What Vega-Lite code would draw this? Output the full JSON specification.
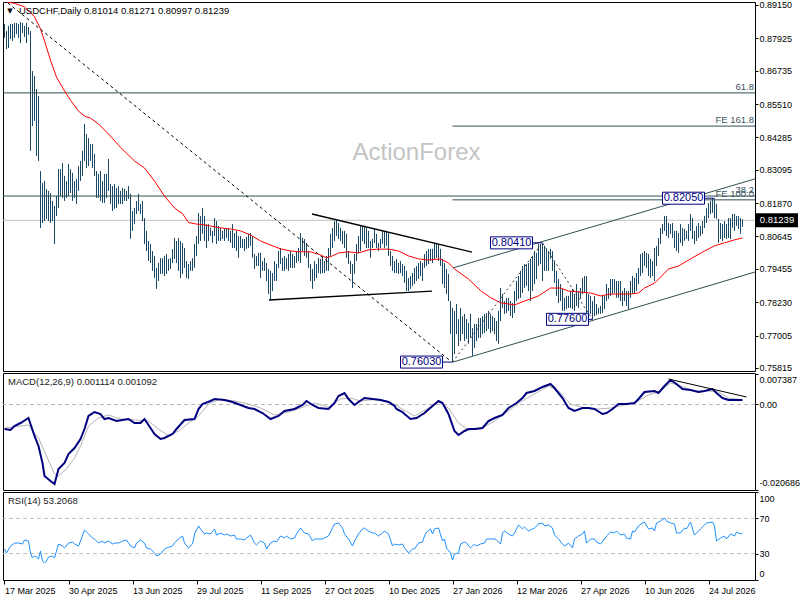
{
  "$schema": "https://vega.github.io/schema/vega-lite/v6.json",
  "background": "white",
  "padding": {"left": 0, "top": 0, "right": 0, "bottom": 0},
  "spacing": 2,
  "bounds": "flush",
  "config": {
    "view": {"stroke": "#000000", "strokeWidth": 1},
    "axis": {"labelFont": "Liberation Sans", "labelFontSize": 9, "labelColor": "#000000", "tickColor": "#000000", "tickSize": 3, "labelPadding": 1, "domain": false, "grid": false, "labelOverlap": false, "labelSeparation": 0},
    "text": {"font": "Liberation Sans"}
  },
  "datasets": {
    "bars": [
      {"i":0,"h":0.8845,"l":0.8794},{"i":1,"h":0.8819,"l":0.8753},{"i":2,"h":0.8838,"l":0.8757},{"i":3,"h":0.8845,"l":0.8790},{"i":4,"h":0.8845,"l":0.8783},
      {"i":5,"h":0.8849,"l":0.8794},{"i":6,"h":0.8849,"l":0.8808},{"i":7,"h":0.8845,"l":0.8794},{"i":8,"h":0.8852,"l":0.8775},{"i":9,"h":0.8849,"l":0.8812},
      {"i":10,"h":0.8838,"l":0.8797},{"i":11,"h":0.8849,"l":0.8775},{"i":12,"h":0.8834,"l":0.8805},{"i":13,"h":0.8819,"l":0.8379},{"i":14,"h":0.8672,"l":0.8470},
      {"i":15,"h":0.8654,"l":0.8489},{"i":16,"h":0.8606,"l":0.8360},{"i":17,"h":0.8581,"l":0.8342},{"i":18,"h":0.8305,"l":0.8096},{"i":19,"h":0.8261,"l":0.8114},
      {"i":20,"h":0.8268,"l":0.8121},{"i":21,"h":0.8239,"l":0.8129},{"i":22,"h":0.8232,"l":0.8121},{"i":23,"h":0.8224,"l":0.8114},{"i":24,"h":0.8195,"l":0.8121},
      {"i":25,"h":0.8177,"l":0.8037},{"i":26,"h":0.8213,"l":0.8140},{"i":27,"h":0.8312,"l":0.8169},{"i":28,"h":0.8312,"l":0.8213},{"i":29,"h":0.8334,"l":0.8206},
      {"i":30,"h":0.8287,"l":0.8195},{"i":31,"h":0.8268,"l":0.8206},{"i":32,"h":0.8331,"l":0.8213},{"i":33,"h":0.8312,"l":0.8224},{"i":34,"h":0.8298,"l":0.8195},
      {"i":35,"h":0.8268,"l":0.8206},{"i":36,"h":0.8276,"l":0.8184},{"i":37,"h":0.8323,"l":0.8232},{"i":38,"h":0.8342,"l":0.8268},{"i":39,"h":0.8379,"l":0.8287},
      {"i":40,"h":0.8478,"l":0.8342},{"i":41,"h":0.8441,"l":0.8316},{"i":42,"h":0.8426,"l":0.8323},{"i":43,"h":0.8404,"l":0.8342},{"i":44,"h":0.8404,"l":0.8316},
      {"i":45,"h":0.8368,"l":0.8287},{"i":46,"h":0.8305,"l":0.8206},{"i":47,"h":0.8294,"l":0.8206},{"i":48,"h":0.8305,"l":0.8195},{"i":49,"h":0.8268,"l":0.8188},
      {"i":50,"h":0.8294,"l":0.8188},{"i":51,"h":0.8294,"l":0.8206},{"i":52,"h":0.8349,"l":0.8232},{"i":53,"h":0.8257,"l":0.8184},{"i":54,"h":0.8250,"l":0.8158},
      {"i":55,"h":0.8257,"l":0.8166},{"i":56,"h":0.8243,"l":0.8169},{"i":57,"h":0.8250,"l":0.8184},{"i":58,"h":0.8232,"l":0.8184},{"i":59,"h":0.8243,"l":0.8184},
      {"i":60,"h":0.8239,"l":0.8195},{"i":61,"h":0.8232,"l":0.8195},{"i":62,"h":0.8250,"l":0.8202},{"i":63,"h":0.8221,"l":0.8056},{"i":64,"h":0.8158,"l":0.8085},
      {"i":65,"h":0.8169,"l":0.8110},{"i":66,"h":0.8195,"l":0.8147},{"i":67,"h":0.8221,"l":0.8158},{"i":68,"h":0.8184,"l":0.8147},{"i":69,"h":0.8195,"l":0.8121},
      {"i":70,"h":0.8132,"l":0.8037},{"i":71,"h":0.8085,"l":0.8011},{"i":72,"h":0.8048,"l":0.7974},{"i":73,"h":0.8037,"l":0.7967},{"i":74,"h":0.8011,"l":0.7938},
      {"i":75,"h":0.7993,"l":0.7912},{"i":76,"h":0.7949,"l":0.7872},{"i":77,"h":0.7967,"l":0.7901},{"i":78,"h":0.7985,"l":0.7927},{"i":79,"h":0.7985,"l":0.7927},
      {"i":80,"h":0.7993,"l":0.7919},{"i":81,"h":0.8000,"l":0.7927},{"i":82,"h":0.7982,"l":0.7938},{"i":83,"h":0.7985,"l":0.7945},{"i":84,"h":0.8018,"l":0.7967},
      {"i":85,"h":0.8059,"l":0.7982},{"i":86,"h":0.8048,"l":0.7967},{"i":87,"h":0.8059,"l":0.7938},{"i":88,"h":0.8048,"l":0.7912},{"i":89,"h":0.8040,"l":0.7927},
      {"i":90,"h":0.8022,"l":0.7949},{"i":91,"h":0.7974,"l":0.7912},{"i":92,"h":0.7963,"l":0.7908},{"i":93,"h":0.7974,"l":0.7938},{"i":94,"h":0.7985,"l":0.7938},
      {"i":95,"h":0.8037,"l":0.7949},{"i":96,"h":0.8066,"l":0.7993},{"i":97,"h":0.8151,"l":0.8037},{"i":98,"h":0.8140,"l":0.8048},{"i":99,"h":0.8169,"l":0.8074},
      {"i":100,"h":0.8140,"l":0.8048},{"i":101,"h":0.8110,"l":0.8022},{"i":102,"h":0.8110,"l":0.8048},{"i":103,"h":0.8096,"l":0.8066},{"i":104,"h":0.8085,"l":0.8041},
      {"i":105,"h":0.8132,"l":0.8066},{"i":106,"h":0.8121,"l":0.8037},{"i":107,"h":0.8103,"l":0.8048},{"i":108,"h":0.8096,"l":0.8048},{"i":109,"h":0.8085,"l":0.8055},
      {"i":110,"h":0.8092,"l":0.8048},{"i":111,"h":0.8096,"l":0.8059},{"i":112,"h":0.8096,"l":0.8048},{"i":113,"h":0.8085,"l":0.8041},{"i":114,"h":0.8110,"l":0.8022},
      {"i":115,"h":0.8077,"l":0.8022},{"i":116,"h":0.8085,"l":0.8011},{"i":117,"h":0.8066,"l":0.7986},{"i":118,"h":0.8066,"l":0.8022},{"i":119,"h":0.8055,"l":0.8022},
      {"i":120,"h":0.8055,"l":0.8011},{"i":121,"h":0.8063,"l":0.8019},{"i":122,"h":0.8074,"l":0.8022},{"i":123,"h":0.8077,"l":0.8030},{"i":124,"h":0.8066,"l":0.7986},
      {"i":125,"h":0.8000,"l":0.7945},{"i":126,"h":0.7993,"l":0.7956},{"i":127,"h":0.8004,"l":0.7956},{"i":128,"h":0.8004,"l":0.7912},{"i":129,"h":0.7974,"l":0.7938},
      {"i":130,"h":0.7986,"l":0.7938},{"i":131,"h":0.7967,"l":0.7901},{"i":132,"h":0.7945,"l":0.7853},{"i":133,"h":0.7938,"l":0.7829},{"i":134,"h":0.7930,"l":0.7864},
      {"i":135,"h":0.7974,"l":0.7901},{"i":136,"h":0.7963,"l":0.7901},{"i":137,"h":0.8011,"l":0.7949},{"i":138,"h":0.8022,"l":0.7963},{"i":139,"h":0.7986,"l":0.7938},
      {"i":140,"h":0.7993,"l":0.7938},{"i":141,"h":0.7986,"l":0.7945},{"i":142,"h":0.8000,"l":0.7938},{"i":143,"h":0.8011,"l":0.7949},{"i":144,"h":0.8000,"l":0.7949},
      {"i":145,"h":0.7993,"l":0.7949},{"i":146,"h":0.8011,"l":0.7967},{"i":147,"h":0.8022,"l":0.7974},{"i":148,"h":0.8077,"l":0.7967},{"i":149,"h":0.8059,"l":0.8011},
      {"i":150,"h":0.8055,"l":0.7993},{"i":151,"h":0.8041,"l":0.7986},{"i":152,"h":0.8011,"l":0.7949},{"i":153,"h":0.7963,"l":0.7901},{"i":154,"h":0.7945,"l":0.7872},
      {"i":155,"h":0.7974,"l":0.7901},{"i":156,"h":0.7963,"l":0.7912},{"i":157,"h":0.7986,"l":0.7930},{"i":158,"h":0.7982,"l":0.7927},{"i":159,"h":0.7993,"l":0.7930},
      {"i":160,"h":0.7974,"l":0.7930},{"i":161,"h":0.7993,"l":0.7938},{"i":162,"h":0.8022,"l":0.7938},{"i":163,"h":0.8074,"l":0.7993},{"i":164,"h":0.8096,"l":0.8022},
      {"i":165,"h":0.8121,"l":0.8048},{"i":166,"h":0.8125,"l":0.8066},{"i":167,"h":0.8114,"l":0.8055},{"i":168,"h":0.8096,"l":0.8048},{"i":169,"h":0.8085,"l":0.8037},
      {"i":170,"h":0.8085,"l":0.8022},{"i":171,"h":0.8074,"l":0.7986},{"i":172,"h":0.8011,"l":0.7963},{"i":173,"h":0.7974,"l":0.7927},{"i":174,"h":0.7963,"l":0.7875},
      {"i":175,"h":0.8000,"l":0.7927},{"i":176,"h":0.8037,"l":0.7974},{"i":177,"h":0.8066,"l":0.8004},{"i":178,"h":0.8103,"l":0.8011},{"i":179,"h":0.8103,"l":0.8048},
      {"i":180,"h":0.8103,"l":0.8037},{"i":181,"h":0.8096,"l":0.8022},{"i":182,"h":0.8085,"l":0.8022},{"i":183,"h":0.8048,"l":0.7986},{"i":184,"h":0.8055,"l":0.8022},
      {"i":185,"h":0.8092,"l":0.8041},{"i":186,"h":0.8074,"l":0.8022},{"i":187,"h":0.8041,"l":0.8011},{"i":188,"h":0.8055,"l":0.8022},{"i":189,"h":0.8085,"l":0.8037},
      {"i":190,"h":0.8085,"l":0.8022},{"i":191,"h":0.8085,"l":0.8030},{"i":192,"h":0.8077,"l":0.7993},{"i":193,"h":0.8011,"l":0.7956},{"i":194,"h":0.7993,"l":0.7938},
      {"i":195,"h":0.7974,"l":0.7930},{"i":196,"h":0.7982,"l":0.7930},{"i":197,"h":0.7967,"l":0.7927},{"i":198,"h":0.7974,"l":0.7930},{"i":199,"h":0.7963,"l":0.7919},
      {"i":200,"h":0.7956,"l":0.7894},{"i":201,"h":0.7938,"l":0.7864},{"i":202,"h":0.7912,"l":0.7864},{"i":203,"h":0.7919,"l":0.7872},{"i":204,"h":0.7930,"l":0.7883},
      {"i":205,"h":0.7949,"l":0.7890},{"i":206,"h":0.7956,"l":0.7901},{"i":207,"h":0.7967,"l":0.7908},{"i":208,"h":0.7974,"l":0.7919},{"i":209,"h":0.7967,"l":0.7901},
      {"i":210,"h":0.8000,"l":0.7949},{"i":211,"h":0.8011,"l":0.7956},{"i":212,"h":0.8019,"l":0.7963},{"i":213,"h":0.8019,"l":0.7974},{"i":214,"h":0.8019,"l":0.7967},
      {"i":215,"h":0.8041,"l":0.7982},{"i":216,"h":0.8041,"l":0.7986},{"i":217,"h":0.8037,"l":0.7974},{"i":218,"h":0.8019,"l":0.7956},{"i":219,"h":0.7982,"l":0.7890},
      {"i":220,"h":0.7967,"l":0.7875},{"i":221,"h":0.7945,"l":0.7853},{"i":222,"h":0.7927,"l":0.7827},{"i":223,"h":0.7827,"l":0.7706},{"i":224,"h":0.7802,"l":0.7603},
      {"i":225,"h":0.7791,"l":0.7633},{"i":226,"h":0.7816,"l":0.7706},{"i":227,"h":0.7761,"l":0.7662},{"i":228,"h":0.7802,"l":0.7680},{"i":229,"h":0.7772,"l":0.7706},
      {"i":230,"h":0.7780,"l":0.7680},{"i":231,"h":0.7761,"l":0.7688},{"i":232,"h":0.7747,"l":0.7670},{"i":233,"h":0.7780,"l":0.7692},{"i":234,"h":0.7728,"l":0.7626},
      {"i":235,"h":0.7743,"l":0.7655},{"i":236,"h":0.7743,"l":0.7680},{"i":237,"h":0.7765,"l":0.7692},{"i":238,"h":0.7765,"l":0.7692},{"i":239,"h":0.7772,"l":0.7706},
      {"i":240,"h":0.7780,"l":0.7710},{"i":241,"h":0.7783,"l":0.7717},{"i":242,"h":0.7791,"l":0.7725},{"i":243,"h":0.7780,"l":0.7710},{"i":244,"h":0.7772,"l":0.7717},
      {"i":245,"h":0.7765,"l":0.7706},{"i":246,"h":0.7754,"l":0.7680},{"i":247,"h":0.7791,"l":0.7670},{"i":248,"h":0.7875,"l":0.7754},{"i":249,"h":0.7853,"l":0.7802},
      {"i":250,"h":0.7827,"l":0.7780},{"i":251,"h":0.7839,"l":0.7783},{"i":252,"h":0.7839,"l":0.7791},{"i":253,"h":0.7827,"l":0.7772},{"i":254,"h":0.7820,"l":0.7765},
      {"i":255,"h":0.7864,"l":0.7783},{"i":256,"h":0.7901,"l":0.7827},{"i":257,"h":0.7919,"l":0.7835},{"i":258,"h":0.7938,"l":0.7839},{"i":259,"h":0.7956,"l":0.7857},
      {"i":260,"h":0.7963,"l":0.7875},{"i":261,"h":0.7963,"l":0.7883},{"i":262,"h":0.7967,"l":0.7864},{"i":263,"h":0.7982,"l":0.7827},{"i":264,"h":0.7993,"l":0.7864},
      {"i":265,"h":0.8011,"l":0.7890},{"i":266,"h":0.8004,"l":0.7908},{"i":267,"h":0.8037,"l":0.7956},{"i":268,"h":0.8037,"l":0.7963},{"i":269,"h":0.8041,"l":0.7901},
      {"i":270,"h":0.8030,"l":0.7938},{"i":271,"h":0.8019,"l":0.7938},{"i":272,"h":0.8011,"l":0.7938},{"i":273,"h":0.8019,"l":0.7982},{"i":274,"h":0.8011,"l":0.7938},
      {"i":275,"h":0.7974,"l":0.7894},{"i":276,"h":0.7938,"l":0.7846},{"i":277,"h":0.7908,"l":0.7820},{"i":278,"h":0.7890,"l":0.7827},{"i":279,"h":0.7872,"l":0.7791},
      {"i":280,"h":0.7839,"l":0.7791},{"i":281,"h":0.7846,"l":0.7798},{"i":282,"h":0.7846,"l":0.7802},{"i":283,"h":0.7864,"l":0.7802},{"i":284,"h":0.7872,"l":0.7798},
      {"i":285,"h":0.7853,"l":0.7791},{"i":286,"h":0.7890,"l":0.7809},{"i":287,"h":0.7864,"l":0.7802},{"i":288,"h":0.7875,"l":0.7835},{"i":289,"h":0.7912,"l":0.7853},
      {"i":290,"h":0.7919,"l":0.7857},{"i":291,"h":0.7919,"l":0.7772},{"i":292,"h":0.7853,"l":0.7769},{"i":293,"h":0.7846,"l":0.7780},{"i":294,"h":0.7827,"l":0.7760},
      {"i":295,"h":0.7846,"l":0.7772},{"i":296,"h":0.7816,"l":0.7776},{"i":297,"h":0.7802,"l":0.7780},{"i":298,"h":0.7809,"l":0.7780},{"i":299,"h":0.7846,"l":0.7783},
      {"i":300,"h":0.7846,"l":0.7798},{"i":301,"h":0.7890,"l":0.7827},{"i":302,"h":0.7875,"l":0.7835},{"i":303,"h":0.7908,"l":0.7846},{"i":304,"h":0.7908,"l":0.7853},
      {"i":305,"h":0.7908,"l":0.7857},{"i":306,"h":0.7901,"l":0.7839},{"i":307,"h":0.7901,"l":0.7839},{"i":308,"h":0.7901,"l":0.7827},{"i":309,"h":0.7864,"l":0.7809},
      {"i":310,"h":0.7875,"l":0.7827},{"i":311,"h":0.7864,"l":0.7809},{"i":312,"h":0.7864,"l":0.7798},{"i":313,"h":0.7901,"l":0.7839},{"i":314,"h":0.7919,"l":0.7853},
      {"i":315,"h":0.7912,"l":0.7853},{"i":316,"h":0.7930,"l":0.7864},{"i":317,"h":0.7949,"l":0.7890},{"i":318,"h":0.8000,"l":0.7919},{"i":319,"h":0.8004,"l":0.7930},
      {"i":320,"h":0.8011,"l":0.7956},{"i":321,"h":0.8004,"l":0.7949},{"i":322,"h":0.8000,"l":0.7919},{"i":323,"h":0.7982,"l":0.7912},{"i":324,"h":0.7974,"l":0.7919},
      {"i":325,"h":0.8022,"l":0.7901},{"i":326,"h":0.8030,"l":0.7956},{"i":327,"h":0.8059,"l":0.7993},{"i":328,"h":0.8096,"l":0.8037},{"i":329,"h":0.8110,"l":0.8074},
      {"i":330,"h":0.8140,"l":0.8085},{"i":331,"h":0.8140,"l":0.8066},{"i":332,"h":0.8114,"l":0.8059},{"i":333,"h":0.8110,"l":0.8074},{"i":334,"h":0.8114,"l":0.8059},
      {"i":335,"h":0.8085,"l":0.8022},{"i":336,"h":0.8085,"l":0.8011},{"i":337,"h":0.8077,"l":0.8004},{"i":338,"h":0.8110,"l":0.8041},{"i":339,"h":0.8096,"l":0.8030},
      {"i":340,"h":0.8092,"l":0.8048},{"i":341,"h":0.8085,"l":0.8055},{"i":342,"h":0.8110,"l":0.8048},{"i":343,"h":0.8147,"l":0.8085},{"i":344,"h":0.8132,"l":0.8055},
      {"i":345,"h":0.8085,"l":0.8037},{"i":346,"h":0.8103,"l":0.8048},{"i":347,"h":0.8114,"l":0.8059},{"i":348,"h":0.8103,"l":0.8066},{"i":349,"h":0.8121,"l":0.8074},
      {"i":350,"h":0.8140,"l":0.8096},{"i":351,"h":0.8169,"l":0.8114},{"i":352,"h":0.8187,"l":0.8132},{"i":353,"h":0.8195,"l":0.8147},{"i":354,"h":0.8205,"l":0.8151},
      {"i":355,"h":0.8204,"l":0.8132},{"i":356,"h":0.8184,"l":0.8129},{"i":357,"h":0.8129,"l":0.8041},{"i":358,"h":0.8114,"l":0.8055},{"i":359,"h":0.8110,"l":0.8048},
      {"i":360,"h":0.8121,"l":0.8059},{"i":361,"h":0.8110,"l":0.8055},{"i":362,"h":0.8132,"l":0.8059},{"i":363,"h":0.8132,"l":0.8055},{"i":364,"h":0.8147,"l":0.8096},
      {"i":365,"h":0.8147,"l":0.8085},{"i":366,"h":0.8140,"l":0.8103},{"i":367,"h":0.8140,"l":0.8092},{"i":368,"h":0.8132,"l":0.8074},{"i":369,"h":0.8127,"l":0.8100}
    ],
    "ma": [
      {"i":1,"v":0.8926},{"i":5,"v":0.8921},{"i":10,"v":0.8908},{"i":15,"v":0.8872},{"i":18,"v":0.8827},{"i":20,"v":0.8783},{"i":23,"v":0.8712},{"i":26,"v":0.8650},
      {"i":30,"v":0.8599},{"i":33,"v":0.8565},{"i":37,"v":0.8525},{"i":40,"v":0.8507},{"i":43,"v":0.8499},{"i":47,"v":0.8478},{"i":52,"v":0.8441},{"i":58,"v":0.8392},
      {"i":65,"v":0.8342},{"i":70,"v":0.8316},{"i":75,"v":0.8268},{"i":80,"v":0.8213},{"i":85,"v":0.8169},{"i":89,"v":0.8148},{"i":92,"v":0.8116},{"i":96,"v":0.8110},
      {"i":99,"v":0.8108},{"i":103,"v":0.8103},{"i":108,"v":0.8096},{"i":113,"v":0.8092},{"i":118,"v":0.8085},{"i":123,"v":0.8070},{"i":128,"v":0.8048},{"i":133,"v":0.8033},
      {"i":138,"v":0.8019},{"i":143,"v":0.8011},{"i":148,"v":0.8008},{"i":153,"v":0.8008},{"i":158,"v":0.7997},{"i":161,"v":0.7986},{"i":164,"v":0.7993},{"i":167,"v":0.8004},
      {"i":172,"v":0.8008},{"i":177,"v":0.8004},{"i":182,"v":0.8015},{"i":187,"v":0.8018},{"i":192,"v":0.8018},{"i":197,"v":0.8011},{"i":202,"v":0.7993},{"i":207,"v":0.7982},
      {"i":212,"v":0.7978},{"i":218,"v":0.7982},{"i":222,"v":0.7967},{"i":225,"v":0.7945},{"i":232,"v":0.7908},{"i":238,"v":0.7866},{"i":243,"v":0.7840},{"i":248,"v":0.7821},
      {"i":255,"v":0.7813},{"i":260,"v":0.7827},{"i":267,"v":0.7846},{"i":273,"v":0.7875},{"i":278,"v":0.7875},{"i":282,"v":0.7864},{"i":288,"v":0.7860},{"i":293,"v":0.7857},
      {"i":298,"v":0.7846},{"i":303,"v":0.7853},{"i":308,"v":0.7853},{"i":313,"v":0.7853},{"i":317,"v":0.7857},{"i":320,"v":0.7875},{"i":325,"v":0.7893},{"i":332,"v":0.7945},
      {"i":337,"v":0.7956},{"i":343,"v":0.7982},{"i":350,"v":0.8011},{"i":355,"v":0.8030},{"i":360,"v":0.8041},{"i":365,"v":0.8052},{"i":369,"v":0.8059}
    ],
    "trend": [
      {"name":"down","i":1.75,"p":0.8922},{"name":"down","i":223,"p":0.7607},
      {"name":"triU","i":153.75,"p":0.8147},{"name":"triU","i":233.75,"p":0.8007},
      {"name":"triL","i":132.25,"p":0.7831},{"name":"triL","i":213.75,"p":0.7864},
      {"name":"chU","i":224.25,"p":0.7949},{"name":"chU","i":375.25,"p":0.8276},
      {"name":"chL","i":224.25,"p":0.7603},{"name":"chL","i":375.25,"p":0.7934},
      {"name":"abc","i":224,"p":0.7603},{"name":"abc","i":269,"p":0.8041},{"name":"abc","i":294,"p":0.7760}
    ],
    "levels": [
      {"name":"61.8","p":0.8592,"i1":-0.75,"i2":375.25},
      {"name":"FE 161.8","p":0.8470,"i1":224,"i2":375.25},
      {"name":"38.2","p":0.8213,"i1":-0.75,"i2":375.25},
      {"name":"FE 100.0","p":0.8199,"i1":224,"i2":375.25}
    ],
    "tags": [
      {"t":"0.76030","p":0.7603,"ic":208.5,"i1":219,"i2":224},
      {"t":"0.80410","p":0.8041,"ic":253.5,"i1":264,"i2":269},
      {"t":"0.77600","p":0.7760,"ic":281.5,"i1":292,"i2":294},
      {"t":"0.82050","p":0.8205,"ic":339.5,"i1":350,"i2":355}
    ],
    "macd": [
      {"i":0,"v":-0.00593},{"i":3,"v":-0.00617},{"i":5,"v":-0.0052},{"i":8,"v":-0.00448},{"i":12,"v":-0.00327},{"i":13,"v":-0.00472},{"i":15,"v":-0.00762},{"i":17,"v":-0.01004},
      {"i":19,"v":-0.01416},{"i":20,"v":-0.0173},{"i":23,"v":-0.01851},{"i":25,"v":-0.01924},{"i":27,"v":-0.01561},{"i":30,"v":-0.01416},{"i":32,"v":-0.01198},{"i":35,"v":-0.01053},
      {"i":38,"v":-0.00835},{"i":40,"v":-0.00593},{"i":42,"v":-0.00278},{"i":45,"v":-0.00182},{"i":48,"v":-0.0023},{"i":50,"v":-0.00351},{"i":52,"v":-0.00327},{"i":56,"v":-0.00399},
      {"i":59,"v":-0.00375},{"i":62,"v":-0.00351},{"i":65,"v":-0.00448},{"i":68,"v":-0.00448},{"i":70,"v":-0.00351},{"i":73,"v":-0.00569},{"i":75,"v":-0.00714},{"i":78,"v":-0.00835},
      {"i":80,"v":-0.00811},{"i":84,"v":-0.00714},{"i":86,"v":-0.00593},{"i":90,"v":-0.00375},{"i":95,"v":-0.00351},{"i":97,"v":-0.00109},{"i":99,"v":0.00012},{"i":103,"v":0.00085},
      {"i":105,"v":0.00133},{"i":110,"v":0.00109},{"i":114,"v":0.00061},{"i":118,"v":-0.00012},{"i":122,"v":-0.00085},{"i":125,"v":-0.00109},{"i":129,"v":-0.00206},{"i":131,"v":-0.00278},
      {"i":133,"v":-0.00351},{"i":137,"v":-0.00278},{"i":140,"v":-0.00157},{"i":145,"v":-0.00109},{"i":149,"v":-0.00012},{"i":151,"v":0.00085},{"i":154,"v":-0.00012},{"i":157,"v":-0.00085},
      {"i":162,"v":-0.00109},{"i":165,"v":0.00036},{"i":167,"v":0.00206},{"i":170,"v":0.00278},{"i":172,"v":0.00133},{"i":175,"v":-0.00012},{"i":177,"v":0.00061},{"i":180,"v":0.00157},
      {"i":184,"v":0.00133},{"i":188,"v":0.00109},{"i":192,"v":0.00061},{"i":195,"v":-0.00036},{"i":196,"v":-0.00109},{"i":199,"v":-0.00182},{"i":200,"v":-0.0023},{"i":203,"v":-0.00351},
      {"i":206,"v":-0.00327},{"i":210,"v":-0.00206},{"i":214,"v":-0.00036},{"i":217,"v":0.00085},{"i":219,"v":0.00036},{"i":222,"v":-0.0023},{"i":225,"v":-0.00641},{"i":227,"v":-0.00738},
      {"i":230,"v":-0.00641},{"i":232,"v":-0.00593},{"i":235,"v":-0.00593},{"i":239,"v":-0.00569},{"i":242,"v":-0.00399},{"i":245,"v":-0.00327},{"i":249,"v":-0.00254},{"i":252,"v":-0.00085},
      {"i":256,"v":0.00036},{"i":259,"v":0.00157},{"i":261,"v":0.00278},{"i":265,"v":0.00327},{"i":269,"v":0.00424},{"i":273,"v":0.00496},{"i":275,"v":0.00399},{"i":279,"v":0.00157},
      {"i":282,"v":-0.00085},{"i":285,"v":-0.00157},{"i":289,"v":-0.00085},{"i":292,"v":-0.00085},{"i":295,"v":-0.00109},{"i":299,"v":-0.0023},{"i":301,"v":-0.00206},{"i":304,"v":-0.00109},
      {"i":307,"v":0.00012},{"i":311,"v":0.00012},{"i":315,"v":0.00036},{"i":317,"v":0.00133},{"i":320,"v":0.00303},{"i":325,"v":0.00327},{"i":327,"v":0.00278},{"i":330,"v":0.00448},
      {"i":333,"v":0.00593},{"i":336,"v":0.00496},{"i":339,"v":0.00375},{"i":343,"v":0.00351},{"i":347,"v":0.00303},{"i":350,"v":0.00327},{"i":354,"v":0.00375},{"i":356,"v":0.00278},
      {"i":359,"v":0.00157},{"i":362,"v":0.00109},{"i":365,"v":0.00109},{"i":369,"v":0.00111}
    ],
    "sig": [
      {"i":0,"v":-0.00569},{"i":8,"v":-0.0052},{"i":12,"v":-0.00496},{"i":17,"v":-0.00811},{"i":21,"v":-0.01246},{"i":25,"v":-0.01682},{"i":27,"v":-0.0173},{"i":31,"v":-0.01561},
      {"i":35,"v":-0.01295},{"i":38,"v":-0.01004},{"i":42,"v":-0.0052},{"i":47,"v":-0.00327},{"i":52,"v":-0.00254},{"i":58,"v":-0.00351},{"i":65,"v":-0.00375},{"i":72,"v":-0.00399},
      {"i":77,"v":-0.00593},{"i":82,"v":-0.00762},{"i":87,"v":-0.00641},{"i":92,"v":-0.00448},{"i":97,"v":-0.00278},{"i":102,"v":0.00012},{"i":108,"v":0.00133},{"i":115,"v":0.00085},
      {"i":122,"v":0.00012},{"i":128,"v":-0.00085},{"i":135,"v":-0.00254},{"i":142,"v":-0.00182},{"i":148,"v":-0.00085},{"i":155,"v":0.00036},{"i":162,"v":-0.00061},{"i":168,"v":0.00133},
      {"i":173,"v":0.00157},{"i":178,"v":0.00085},{"i":187,"v":0.00133},{"i":193,"v":0.00061},{"i":198,"v":-0.00085},{"i":205,"v":-0.00278},{"i":212,"v":-0.00085},{"i":217,"v":0.00061},
      {"i":222,"v":-0.00085},{"i":227,"v":-0.00448},{"i":232,"v":-0.00617},{"i":238,"v":-0.00593},{"i":245,"v":-0.00399},{"i":252,"v":-0.00157},{"i":258,"v":0.00061},{"i":265,"v":0.00254},
      {"i":272,"v":0.00448},{"i":277,"v":0.00327},{"i":283,"v":0.00012},{"i":290,"v":-0.00085},{"i":297,"v":-0.00109},{"i":303,"v":-0.00085},{"i":310,"v":-0.00012},{"i":315,"v":0.00036},
      {"i":322,"v":0.0023},{"i":328,"v":0.00327},{"i":333,"v":0.0052},{"i":338,"v":0.00448},{"i":345,"v":0.00327},{"i":352,"v":0.00327},{"i":357,"v":0.00303},{"i":362,"v":0.00157},
      {"i":369,"v":0.00109}
    ],
    "rsi": [
      {"i":0,"v":35.2},{"i":1,"v":30.7},{"i":3,"v":38.6},{"i":5,"v":42.0},{"i":7,"v":42.0},{"i":9,"v":40.9},{"i":10,"v":45.5},{"i":12,"v":44.3},{"i":13,"v":30.7},{"i":14,"v":25.0},
      {"i":15,"v":27.3},{"i":16,"v":26.1},{"i":17,"v":23.9},{"i":18,"v":33.0},{"i":19,"v":21.6},{"i":20,"v":19.3},{"i":21,"v":21.6},{"i":22,"v":26.1},{"i":24,"v":27.3},{"i":25,"v":25.0},
      {"i":27,"v":40.9},{"i":29,"v":38.6},{"i":30,"v":36.4},{"i":32,"v":42.0},{"i":34,"v":43.2},{"i":35,"v":40.9},{"i":37,"v":38.6},{"i":38,"v":44.3},{"i":40,"v":56.8},{"i":42,"v":52.3},
      {"i":44,"v":47.7},{"i":45,"v":46.6},{"i":47,"v":42.0},{"i":49,"v":44.3},{"i":50,"v":42.0},{"i":52,"v":44.3},{"i":54,"v":40.9},{"i":55,"v":42.0},{"i":57,"v":42.0},{"i":59,"v":44.3},
      {"i":61,"v":45.5},{"i":63,"v":38.6},{"i":65,"v":36.4},{"i":66,"v":42.0},{"i":68,"v":45.5},{"i":70,"v":42.0},{"i":71,"v":36.4},{"i":73,"v":35.2},{"i":75,"v":30.7},{"i":76,"v":27.3},
      {"i":78,"v":29.5},{"i":80,"v":35.2},{"i":81,"v":36.4},{"i":84,"v":38.6},{"i":85,"v":42.0},{"i":87,"v":46.6},{"i":89,"v":50.0},{"i":90,"v":42.0},{"i":92,"v":36.4},{"i":94,"v":40.9},
      {"i":95,"v":52.3},{"i":97,"v":61.4},{"i":98,"v":58.0},{"i":100,"v":52.3},{"i":101,"v":53.4},{"i":103,"v":52.3},{"i":105,"v":58.0},{"i":106,"v":51.1},{"i":108,"v":53.4},{"i":110,"v":51.1},
      {"i":111,"v":52.3},{"i":113,"v":50.0},{"i":115,"v":51.1},{"i":116,"v":46.6},{"i":118,"v":46.6},{"i":120,"v":45.5},{"i":121,"v":47.7},{"i":123,"v":51.1},{"i":125,"v":42.0},{"i":126,"v":39.8},
      {"i":128,"v":44.3},{"i":130,"v":42.0},{"i":131,"v":35.2},{"i":133,"v":42.0},{"i":135,"v":44.3},{"i":136,"v":43.2},{"i":138,"v":50.0},{"i":140,"v":47.7},{"i":141,"v":50.0},{"i":143,"v":46.6},
      {"i":145,"v":47.7},{"i":146,"v":52.3},{"i":148,"v":59.1},{"i":150,"v":53.4},{"i":152,"v":52.3},{"i":154,"v":44.3},{"i":155,"v":46.6},{"i":157,"v":46.6},{"i":159,"v":46.6},{"i":160,"v":47.7},
      {"i":162,"v":50.0},{"i":164,"v":59.1},{"i":165,"v":63.6},{"i":167,"v":64.8},{"i":169,"v":59.1},{"i":170,"v":52.3},{"i":172,"v":46.6},{"i":174,"v":38.6},{"i":175,"v":44.3},{"i":177,"v":52.3},
      {"i":179,"v":58.0},{"i":180,"v":59.1},{"i":182,"v":55.7},{"i":184,"v":53.4},{"i":185,"v":53.4},{"i":187,"v":50.0},{"i":189,"v":53.4},{"i":190,"v":55.7},{"i":192,"v":52.3},{"i":194,"v":38.6},
      {"i":195,"v":40.9},{"i":197,"v":39.8},{"i":199,"v":40.9},{"i":200,"v":36.4},{"i":202,"v":30.7},{"i":204,"v":35.2},{"i":205,"v":35.2},{"i":207,"v":42.0},{"i":209,"v":43.2},{"i":210,"v":50.0},
      {"i":211,"v":54.5},{"i":213,"v":58.0},{"i":214,"v":52.3},{"i":215,"v":58.0},{"i":217,"v":59.1},{"i":219,"v":44.3},{"i":220,"v":46.6},{"i":221,"v":36.4},{"i":223,"v":30.7},{"i":224,"v":22.7},
      {"i":225,"v":29.5},{"i":227,"v":30.7},{"i":228,"v":40.9},{"i":230,"v":43.2},{"i":231,"v":42.0},{"i":233,"v":36.4},{"i":235,"v":40.9},{"i":236,"v":38.6},{"i":238,"v":40.9},{"i":240,"v":42.0},
      {"i":241,"v":46.6},{"i":243,"v":46.6},{"i":245,"v":46.6},{"i":246,"v":45.5},{"i":248,"v":40.9},{"i":249,"v":53.4},{"i":250,"v":55.7},{"i":252,"v":52.3},{"i":254,"v":50.0},{"i":255,"v":53.4},
      {"i":257,"v":62.5},{"i":259,"v":58.0},{"i":260,"v":60.2},{"i":262,"v":55.7},{"i":264,"v":58.0},{"i":265,"v":59.1},{"i":267,"v":63.6},{"i":269,"v":64.8},{"i":270,"v":61.4},{"i":272,"v":62.5},
      {"i":274,"v":59.1},{"i":275,"v":51.1},{"i":277,"v":46.6},{"i":279,"v":40.9},{"i":280,"v":38.6},{"i":282,"v":42.0},{"i":284,"v":36.4},{"i":285,"v":46.6},{"i":287,"v":50.0},{"i":289,"v":52.3},
      {"i":290,"v":55.7},{"i":291,"v":42.0},{"i":293,"v":46.6},{"i":295,"v":46.6},{"i":296,"v":43.2},{"i":298,"v":40.9},{"i":300,"v":46.6},{"i":301,"v":50.0},{"i":303,"v":54.5},{"i":305,"v":53.4},
      {"i":306,"v":55.7},{"i":308,"v":51.1},{"i":310,"v":52.3},{"i":311,"v":47.7},{"i":313,"v":46.6},{"i":314,"v":55.7},{"i":315,"v":54.5},{"i":317,"v":61.4},{"i":319,"v":64.8},{"i":320,"v":65.9},
      {"i":322,"v":58.0},{"i":324,"v":59.1},{"i":325,"v":55.7},{"i":326,"v":64.8},{"i":328,"v":67.0},{"i":330,"v":70.5},{"i":331,"v":67.0},{"i":333,"v":64.8},{"i":335,"v":63.6},{"i":336,"v":53.4},
      {"i":338,"v":53.4},{"i":340,"v":59.1},{"i":341,"v":58.0},{"i":343,"v":65.9},{"i":345,"v":51.1},{"i":346,"v":53.4},{"i":348,"v":58.0},{"i":350,"v":62.5},{"i":351,"v":64.8},{"i":354,"v":65.9},
      {"i":355,"v":61.4},{"i":356,"v":44.3},{"i":358,"v":47.7},{"i":360,"v":50.0},{"i":361,"v":46.6},{"i":363,"v":52.3},{"i":365,"v":50.0},{"i":366,"v":54.5},{"i":368,"v":52.3},{"i":369,"v":53.2}
    ]
  },
  "vconcat": [
    {
      "width": 752,
      "height": 369,
      "layer": [
        {
          "data": {"name": "bars"},
          "mark": {"type": "rule", "color": "#1c4966", "strokeWidth": 1, "opacity": 0},
          "encoding": {
            "x": {"field": "i", "type": "quantitative", "scale": {"domain": [-0.75, 375.25], "nice": false, "zero": false}, "axis": null},
            "y": {"field": "l", "type": "quantitative", "scale": {"domain": [0.75702, 0.89259], "nice": false, "zero": false},
                  "axis": {"orient": "right", "title": null, "format": ".5f", "labelOverlap": false, "labelFlush": false, "labelSeparation": 0, "tickCount": 30,
                           "values": [0.8915, 0.87925, 0.86735, 0.8551, 0.84285, 0.83095, 0.8187, 0.80645, 0.79455, 0.7823, 0.77005, 0.75815]}},
            "y2": {"field": "h"}
          }
        },
        {
          "data": {"values": [{}]},
          "mark": {"type": "text", "text": "ActionForex", "fontSize": 24, "color": "#c4c4c4", "align": "center", "baseline": "middle"},
          "encoding": {
            "x": {"datum": 206, "type": "quantitative", "axis": null},
            "y": {"datum": 0.8371, "type": "quantitative"}
          }
        },
        {
          "data": {"values": [{"p": 0.81239}]},
          "mark": {"type": "rule", "color": "#c0c0c0", "strokeWidth": 1},
          "encoding": {"y": {"field": "p", "type": "quantitative"}}
        },
        {
          "data": {"name": "bars"},
          "mark": {"type": "rule", "color": "#1c4966", "strokeWidth": 1},
          "encoding": {
            "x": {"field": "i", "type": "quantitative", "axis": null},
            "y": {"field": "l", "type": "quantitative"},
            "y2": {"field": "h"}
          }
        },
        {
          "data": {"name": "levels"},
          "mark": {"type": "rule", "color": "#2f4f4f", "strokeWidth": 1},
          "encoding": {
            "x": {"field": "i1", "type": "quantitative", "axis": null},
            "x2": {"field": "i2"},
            "y": {"field": "p", "type": "quantitative"}
          }
        },
        {
          "data": {"name": "ma"},
          "mark": {"type": "line", "color": "#ff0000", "strokeWidth": 1, "clip": true},
          "encoding": {
            "x": {"field": "i", "type": "quantitative", "axis": null},
            "y": {"field": "v", "type": "quantitative"}
          }
        },
        {
          "data": {"name": "trend"},
          "transform": [{"filter": "datum.name == 'down'"}],
          "mark": {"type": "line", "color": "#000000", "strokeWidth": 1, "strokeDash": [3, 3], "clip": true},
          "encoding": {
            "x": {"field": "i", "type": "quantitative", "axis": null},
            "y": {"field": "p", "type": "quantitative"}
          }
        },
        {
          "data": {"name": "trend"},
          "transform": [{"filter": "datum.name == 'triU' || datum.name == 'triL'"}],
          "mark": {"type": "line", "color": "#000000", "strokeWidth": 1.3},
          "encoding": {
            "x": {"field": "i", "type": "quantitative", "axis": null},
            "y": {"field": "p", "type": "quantitative"},
            "detail": {"field": "name"}
          }
        },
        {
          "data": {"name": "trend"},
          "transform": [{"filter": "datum.name == 'chU' || datum.name == 'chL'"}],
          "mark": {"type": "line", "color": "#2f4f4f", "strokeWidth": 1, "clip": true},
          "encoding": {
            "x": {"field": "i", "type": "quantitative", "axis": null},
            "y": {"field": "p", "type": "quantitative"},
            "detail": {"field": "name"}
          }
        },
        {
          "data": {"name": "trend"},
          "transform": [{"filter": "datum.name == 'abc'"}],
          "mark": {"type": "line", "color": "#333333", "strokeWidth": 1, "strokeDash": [2, 3]},
          "encoding": {
            "x": {"field": "i", "type": "quantitative", "axis": null},
            "y": {"field": "p", "type": "quantitative"}
          }
        },
        {
          "data": {"name": "tags"},
          "mark": {"type": "rule", "color": "#000080", "strokeWidth": 1},
          "encoding": {
            "x": {"field": "i1", "type": "quantitative", "axis": null},
            "x2": {"field": "i2"},
            "y": {"field": "p", "type": "quantitative"}
          }
        },
        {
          "data": {"name": "tags"},
          "mark": {"type": "rect", "width": 42, "height": 12, "fill": "#ffffff", "stroke": "#000080", "strokeWidth": 1},
          "encoding": {
            "x": {"field": "ic", "type": "quantitative", "axis": null},
            "y": {"field": "p", "type": "quantitative"}
          }
        },
        {
          "data": {"name": "tags"},
          "mark": {"type": "text", "fontSize": 11, "color": "#000080", "align": "center", "baseline": "middle"},
          "encoding": {
            "x": {"field": "ic", "type": "quantitative", "axis": null},
            "y": {"field": "p", "type": "quantitative"},
            "text": {"field": "t"}
          }
        },
        {
          "data": {"name": "levels"},
          "mark": {"type": "text", "fontSize": 9.5, "color": "#3b5560", "align": "right", "baseline": "bottom", "dx": -1, "dy": -1},
          "encoding": {
            "x": {"field": "i2", "type": "quantitative", "axis": null},
            "y": {"field": "p", "type": "quantitative"},
            "text": {"field": "name"}
          }
        },
        {
          "data": {"values": [{}]},
          "mark": {"type": "text", "text": "USDCHF,Daily  0.81014 0.81271 0.80997 0.81239", "fontSize": 9.5, "color": "#000000", "align": "left", "baseline": "middle"},
          "encoding": {
            "x": {"datum": 7.25, "type": "quantitative", "axis": null},
            "y": {"datum": 0.8893, "type": "quantitative"}
          }
        },
        {
          "data": {"values": [{}]},
          "mark": {"type": "text", "text": "▼", "fontSize": 7, "color": "#000000", "align": "center", "baseline": "middle", "font": "DejaVu Sans"},
          "encoding": {
            "x": {"datum": 2.75, "type": "quantitative", "axis": null},
            "y": {"datum": 0.8893, "type": "quantitative"}
          }
        },
        {
          "data": {"values": [{"t": "0.81239", "p": 0.81239}]},
          "mark": {"type": "rect", "width": 42, "height": 14, "fill": "#000000"},
          "encoding": {
            "x": {"datum": 386.25, "type": "quantitative", "axis": null},
            "y": {"field": "p", "type": "quantitative"}
          }
        },
        {
          "data": {"values": [{"t": "0.81239", "p": 0.81239}]},
          "mark": {"type": "text", "fontSize": 9.5, "color": "#ffffff", "align": "center", "baseline": "middle"},
          "encoding": {
            "x": {"datum": 386.25, "type": "quantitative", "axis": null},
            "y": {"field": "p", "type": "quantitative"},
            "text": {"field": "t"}
          }
        }
      ]
    },
    {
      "width": 752,
      "height": 117,
      "layer": [
        {
          "data": {"name": "macd"},
          "mark": {"type": "line", "color": "#000080", "strokeWidth": 2, "opacity": 0},
          "encoding": {
            "x": {"field": "i", "type": "quantitative", "scale": {"domain": [-0.75, 375.25], "nice": false, "zero": false}, "axis": null},
            "y": {"field": "v", "type": "quantitative", "scale": {"domain": [-0.020691, 0.007623], "nice": false, "zero": false},
                  "axis": {"orient": "right", "title": null, "values": [0.007387, 0, -0.020686], "labelFlush": 3, "labelFlushOffset": -2, "labelOverlap": false, "tickCount": 10,
                           "labelExpr": "datum.value < 0 ? '-0.020686' : datum.value > 0 ? '0.007387' : '0.00'"}}
          }
        },
        {
          "data": {"values": [{"v": 0}]},
          "mark": {"type": "rule", "color": "#b4b4b4", "strokeWidth": 1, "strokeDash": [4, 3]},
          "encoding": {"y": {"field": "v", "type": "quantitative"}}
        },
        {
          "data": {"name": "sig"},
          "mark": {"type": "line", "color": "#b4b4b4", "strokeWidth": 1},
          "encoding": {
            "x": {"field": "i", "type": "quantitative", "axis": null},
            "y": {"field": "v", "type": "quantitative"}
          }
        },
        {
          "data": {"name": "macd"},
          "mark": {"type": "line", "color": "#000080", "strokeWidth": 2},
          "encoding": {
            "x": {"field": "i", "type": "quantitative", "axis": null},
            "y": {"field": "v", "type": "quantitative"}
          }
        },
        {
          "data": {"values": [{"i": 332, "v": 0.00617}, {"i": 371, "v": 0.00182}]},
          "mark": {"type": "line", "color": "#000000", "strokeWidth": 1},
          "encoding": {
            "x": {"field": "i", "type": "quantitative", "axis": null},
            "y": {"field": "v", "type": "quantitative"}
          }
        },
        {
          "data": {"values": [{}]},
          "mark": {"type": "text", "text": "MACD(12,26,9) 0.001114 0.001092", "fontSize": 9.5, "color": "#1a1a1a", "align": "left", "baseline": "middle"},
          "encoding": {
            "x": {"datum": 1.75, "type": "quantitative", "axis": null},
            "y": {"datum": 0.00544, "type": "quantitative"}
          }
        }
      ]
    },
    {
      "width": 752,
      "height": 88,
      "layer": [
        {
          "data": {"name": "rsi"},
          "mark": {"type": "line", "color": "#1e90ff", "strokeWidth": 1, "opacity": 0},
          "encoding": {
            "x": {"field": "i", "type": "quantitative", "scale": {"domain": [-0.75, 375.25], "nice": false, "zero": false},
                  "axis": {"orient": "bottom", "title": null, "values": [0, 32, 64, 96, 128, 160, 192, 224, 256, 288, 320, 352], "tickCount": 30,
                           "labelExpr": "['17 Mar 2025','30 Apr 2025','13 Jun 2025','29 Jul 2025','11 Sep 2025','27 Oct 2025','10 Dec 2025','27 Jan 2026','12 Mar 2026','27 Apr 2026','10 Jun 2026','24 Jul 2026'][round(datum.value / 32)]",
                           "labelAlign": "left", "labelFlush": false, "labelOverlap": false, "tickSize": 4, "labelPadding": 2}},
            "y": {"field": "v", "type": "quantitative", "scale": {"domain": [0, 100], "nice": false, "zero": false},
                  "axis": {"orient": "right", "title": null, "values": [100, 70, 30, 0], "labelFlush": 3, "labelFlushOffset": -2, "labelOverlap": false, "tickCount": 10}}
          }
        },
        {
          "data": {"values": [{"v": 70}, {"v": 30}]},
          "mark": {"type": "rule", "color": "#c0c0c0", "strokeWidth": 1, "strokeDash": [4, 3]},
          "encoding": {"y": {"field": "v", "type": "quantitative"}}
        },
        {
          "data": {"name": "rsi"},
          "mark": {"type": "line", "color": "#1e90ff", "strokeWidth": 1},
          "encoding": {
            "x": {"field": "i", "type": "quantitative"},
            "y": {"field": "v", "type": "quantitative"}
          }
        },
        {
          "data": {"values": [{}]},
          "mark": {"type": "text", "text": "RSI(14) 53.2068", "fontSize": 9.5, "color": "#1a1a1a", "align": "left", "baseline": "middle"},
          "encoding": {
            "x": {"datum": 1.75, "type": "quantitative"},
            "y": {"datum": 89.8, "type": "quantitative"}
          }
        }
      ]
    }
  ]
}
